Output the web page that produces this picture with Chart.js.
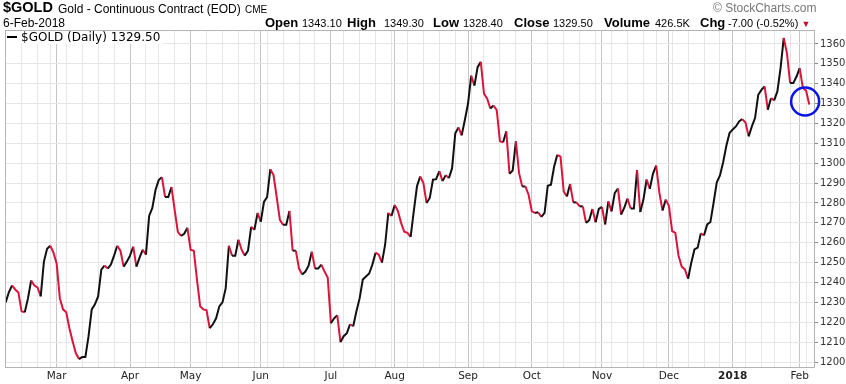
<!DOCTYPE html>
<html>
<head>
<meta charset="utf-8">
<script src="https://cdn.jsdelivr.net/npm/chart.js@4.4.1/dist/chart.umd.min.js"></script>
<style>
  body { margin: 0; background: #fff; width: 846px; height: 384px; overflow: hidden; position: relative; font-family: "Liberation Sans", Arial, sans-serif; }
  canvas { position: absolute; left: 0; top: 0; }
  .t { position: absolute; white-space: nowrap; color: #000; }
  .lab { font-weight: bold; font-size: 13px; line-height: 13px; top: 16px; }
  .val { font-size: 11px; line-height: 11px; top: 18px; }
  #legend { position: absolute; left: 6px; top: 31px; background: #fff; font: 12px "DejaVu Sans", Verdana, sans-serif; line-height: 13px; padding: 0 3px 0 1px; color: #000; white-space: nowrap; }
  #legend i { display: inline-block; width: 10px; height: 2.5px; background: #000; vertical-align: 3px; margin-right: 4px; }
</style>
</head>
<body>
<canvas id="chart" width="846" height="384"></canvas>

<div class="t" style="left:3px;top:0px;font-size:14.5px;line-height:15px;font-weight:bold">$GOLD</div>
<div class="t" style="left:58px;top:3px;font-size:12px;line-height:12px">Gold - Continuous Contract (EOD)</div>
<div class="t" style="left:245px;top:4.5px;font-size:10px;line-height:10px">CME</div>
<div class="t" style="left:3px;top:17px;font-size:12px;line-height:12px">6-Feb-2018</div>
<div class="t" style="left:713px;top:2px;font-size:12px;line-height:12px;color:#777">© StockCharts.com</div>

<div class="t lab" style="left:265px">Open</div>
<div class="t val" style="left:302px">1343.10</div>
<div class="t lab" style="left:347px">High</div>
<div class="t val" style="left:384px">1349.30</div>
<div class="t lab" style="left:433px">Low</div>
<div class="t val" style="left:463px">1328.40</div>
<div class="t lab" style="left:514px">Close</div>
<div class="t val" style="left:553px">1329.50</div>
<div class="t lab" style="left:604px">Volume</div>
<div class="t val" style="left:655px">426.5K</div>
<div class="t lab" style="left:700px">Chg</div>
<div class="t val" style="left:728px">-7.00 (-0.52%) <span style="color:#c8102e;font-size:9px">▼</span></div>

<div id="legend"><i></i>$GOLD (Daily) 1329.50</div>

<script>
// trading calendar of the chart
const startDate = '2017-02-06';
const holidays = ['2017-02-20', '2017-04-14', '2017-05-29', '2017-07-04', '2017-09-04',
                  '2017-11-23', '2017-12-25', '2018-01-01', '2018-01-15'];

// daily closes, 6-Feb-2017 .. 6-Feb-2018
const closes = [
  1230, 1235, 1238.5, 1236.5, 1235, 1225.5, 1225, 1232, 1241, 1238.5,
  1237.5, 1233, 1250.5, 1257, 1258.5, 1255, 1249.5, 1232, 1226.5, 1225,
  1217, 1210.5, 1204.5, 1201.5, 1202.5, 1202.5, 1213, 1226.5, 1229, 1233,
  1246.5, 1248.5, 1247, 1249, 1253.5, 1258.5, 1256, 1248, 1250.5, 1253.5,
  1258, 1248, 1252.5, 1256.5, 1254, 1273.5, 1277.5, 1286.5, 1291.5, 1293,
  1283, 1283, 1288, 1276.5, 1265.5, 1263.5, 1264.5, 1267.5, 1256.5, 1256,
  1241.5, 1228, 1226.5, 1226, 1217, 1219, 1222, 1228, 1230, 1237,
  1258.5, 1253.5, 1253.5, 1261.5, 1256.5, 1253.5, 1256, 1268, 1266.5, 1275,
  1270.5, 1280.5, 1283, 1297, 1294, 1283, 1271.5, 1269, 1269, 1276,
  1256, 1256, 1247, 1244, 1245.5, 1248.5, 1255.5, 1247, 1247, 1249,
  1245.5, 1242.5, 1219.5, 1222, 1223.5, 1210, 1213, 1214.5, 1219, 1218,
  1225.5, 1232, 1241.5, 1243, 1244.5, 1249, 1255, 1254, 1250, 1259,
  1275, 1273.5, 1279, 1276, 1270, 1265.5, 1265, 1263, 1276, 1288.5,
  1293.3, 1290, 1280, 1282.5, 1291.7, 1292, 1296, 1291, 1294, 1292.5,
  1297.5, 1315, 1318, 1314, 1321.7, 1330, 1344, 1339, 1348.3, 1351,
  1335, 1332.5, 1327.5, 1329, 1326.7, 1311, 1310.5, 1316, 1294.7, 1296.3,
  1311, 1295, 1288.3, 1288.3, 1284, 1275.8, 1275, 1275.3, 1273, 1275,
  1288.7, 1289.2, 1298.3, 1304.2, 1303.3, 1285.8, 1283.3, 1289.5, 1280.3, 1280.3,
  1278.3, 1278.3, 1270, 1271.3, 1277, 1270.3, 1277, 1278, 1269.2, 1280.8,
  1275.8, 1285, 1287.3, 1274.2, 1277.6, 1282.2, 1277.2, 1277.2, 1296.5, 1275.4,
  1281.7, 1291.8, 1287.1, 1294.8, 1298.8, 1285.1, 1276.2, 1281.7, 1278.4, 1265.9,
  1265, 1253.6, 1248, 1246.6, 1241.9, 1249.9, 1256.6, 1257.5, 1264.7, 1263.7,
  1269.2, 1270.4, 1280.1, 1290.4, 1293.8, 1300.5, 1308.8, 1315.2, 1317, 1318.5,
  1321, 1322.2, 1320.5, 1313.5, 1318.5, 1322.7, 1334.4, 1336.9, 1338.6, 1326.9,
  1332.7, 1331.6, 1336.1, 1347.8, 1363, 1355.3, 1340.3, 1340.3, 1343.6, 1347.8,
  1337.8, 1336.5, 1329.5
];

const yTicks = [1200, 1210, 1220, 1230, 1240, 1250, 1260, 1270, 1280, 1290,
                1300, 1310, 1320, 1330, 1340, 1350, 1360];
const monthNames = ['Jan', 'Feb', 'Mar', 'Apr', 'May', 'Jun', 'Jul', 'Aug', 'Sep', 'Oct', 'Nov', 'Dec'];

const UP = '#111';
const DOWN = '#dc143c';

// dates for each close
const days = [];
let d = new Date(startDate + 'T00:00:00Z');
while (days.length < closes.length) {
  const iso = d.toISOString().slice(0, 10);
  const wd = d.getUTCDay();
  if (wd !== 0 && wd !== 6 && !holidays.includes(iso)) days.push(new Date(d));
  d.setUTCDate(d.getUTCDate() + 1);
}

// month starts get a label and a darker line, week starts a light line
const monthLabel = {};
const gridIdx = [];
for (let i = 1; i < days.length; i++) {
  const m = days[i].getUTCMonth();
  if (m !== days[i - 1].getUTCMonth()) {
    monthLabel[i] = m === 0 ? String(days[i].getUTCFullYear()) : monthNames[m];
    gridIdx.push(i);
  } else if (days[i].getUTCDay() < days[i - 1].getUTCDay()) {
    gridIdx.push(i);
  }
}

const frame = {
  id: 'frame',
  afterDraw(chart) {
    const { ctx, chartArea: a, scales } = chart;
    ctx.save();
    ctx.strokeStyle = '#b4b4b4';
    ctx.lineWidth = 1;
    ctx.strokeRect(a.left + 0.5, a.top + 0.5, a.right - a.left - 1, a.bottom - a.top);
    // blue marker round the last close
    const cx = scales.x.getPixelForValue(closes.length - 2.3);
    const cy = scales.y.getPixelForValue(1331);
    ctx.strokeStyle = '#0a14e6';
    ctx.lineWidth = 2.5;
    ctx.beginPath();
    ctx.arc(cx, cy, 14, 0, Math.PI * 2);
    ctx.stroke();
    ctx.restore();
  }
};

new Chart(document.getElementById('chart'), {
  type: 'line',
  data: {
    datasets: [{
      data: closes.map((v, i) => ({ x: i, y: v })),
      borderWidth: 2,
      pointRadius: 0,
      tension: 0,
      segment: {
        borderColor: c => c.p1.parsed.y < c.p0.parsed.y ? DOWN : UP
      }
    }]
  },
  options: {
    responsive: false,
    devicePixelRatio: 1,
    animation: false,
    layout: { padding: { top: 30, left: 5, right: 0, bottom: 0 } },
    plugins: { legend: { display: false }, tooltip: { enabled: false } },
    scales: {
      x: {
        type: 'linear',
        min: -0.2,
        max: 253.8,
        afterBuildTicks: s => { s.ticks = gridIdx.map(v => ({ value: v })); },
        afterFit: s => { s.height = 17; },
        border: { display: false },
        grid: {
          drawTicks: false,
          color: c => (c.tick && monthLabel[c.tick.value]) ? '#c6c6c6' : '#e6e6e6'
        },
        ticks: {
          autoSkip: false,
          maxRotation: 0,
          padding: 3,
          color: '#222',
          font: c => ({ family: 'DejaVu Sans', size: 10.5, weight: (c.tick && /^\d/.test(monthLabel[c.tick.value] || '')) ? 'bold' : 'normal' }),
          callback: v => monthLabel[v] || ''
        }
      },
      y: {
        position: 'right',
        min: 1197.5,
        max: 1367,
        afterBuildTicks: s => { s.ticks = yTicks.map(v => ({ value: v })); },
        afterFit: s => { s.width = 31; },
        border: { display: false },
        grid: { color: '#e6e6e6', tickLength: 3, tickColor: '#888' },
        ticks: {
          padding: 2,
          color: '#333',
          font: { family: 'DejaVu Sans', size: 10 },
          callback: v => String(v)
        }
      }
    }
  },
  plugins: [frame]
});
</script>
</body>
</html>
